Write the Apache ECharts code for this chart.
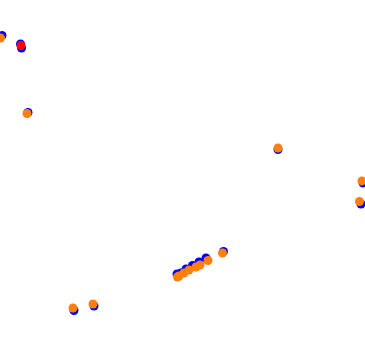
<!DOCTYPE html>
<html>
<head>
<meta charset="utf-8">
<script src="https://cdn.jsdelivr.net/npm/echarts@6/dist/echarts.min.js"></script>
<style>html,body{margin:0;padding:0;background:#fff}#c{width:365px;height:350px}</style>
</head>
<body>
<div id="c"></div>
<script>
var blueX = [2, 20.5, 21.5, 28, 278, 363, 361, 223.5, 206, 199, 192.5, 186, 181, 177, 74, 94];
var blueY = [35.5, 44, 48, 112.5, 149.5, 183, 204, 251.5, 258, 262, 265.5, 269, 273, 274, 310.5, 306];
var redX = [21];
var redY = [45.5];
var orangeX = [0.5, 27, 278, 362, 359.5, 222.5, 208, 200, 196, 189, 184, 179, 177.5, 73, 93];
var orangeY = [38, 113.5, 148, 181, 201.5, 253, 260.5, 265, 267, 270, 273, 276, 277, 308, 304];

function pts(xs, ys) { return xs.map(function (x, i) { return [x, ys[i]]; }); }

var chart = echarts.init(document.getElementById('c'));
chart.setOption({
  animation: false,
  grid: { left: 0, right: 0, top: 0, bottom: 0 },
  xAxis: { type: 'value', min: 0, max: 365, show: false },
  yAxis: { type: 'value', min: 0, max: 350, inverse: true, show: false },
  series: [
    { type: 'scatter', data: pts(blueX, blueY), symbolSize: 9, itemStyle: { color: '#0000ff', opacity: 1 } },
    { type: 'scatter', data: pts(redX, redY), symbolSize: 9, itemStyle: { color: '#ff0000', opacity: 1 } },
    { type: 'scatter', data: pts(orangeX, orangeY), symbolSize: 9, itemStyle: { color: '#ff7f0e', opacity: 1 } }
  ]
});
</script>
</body>
</html>
